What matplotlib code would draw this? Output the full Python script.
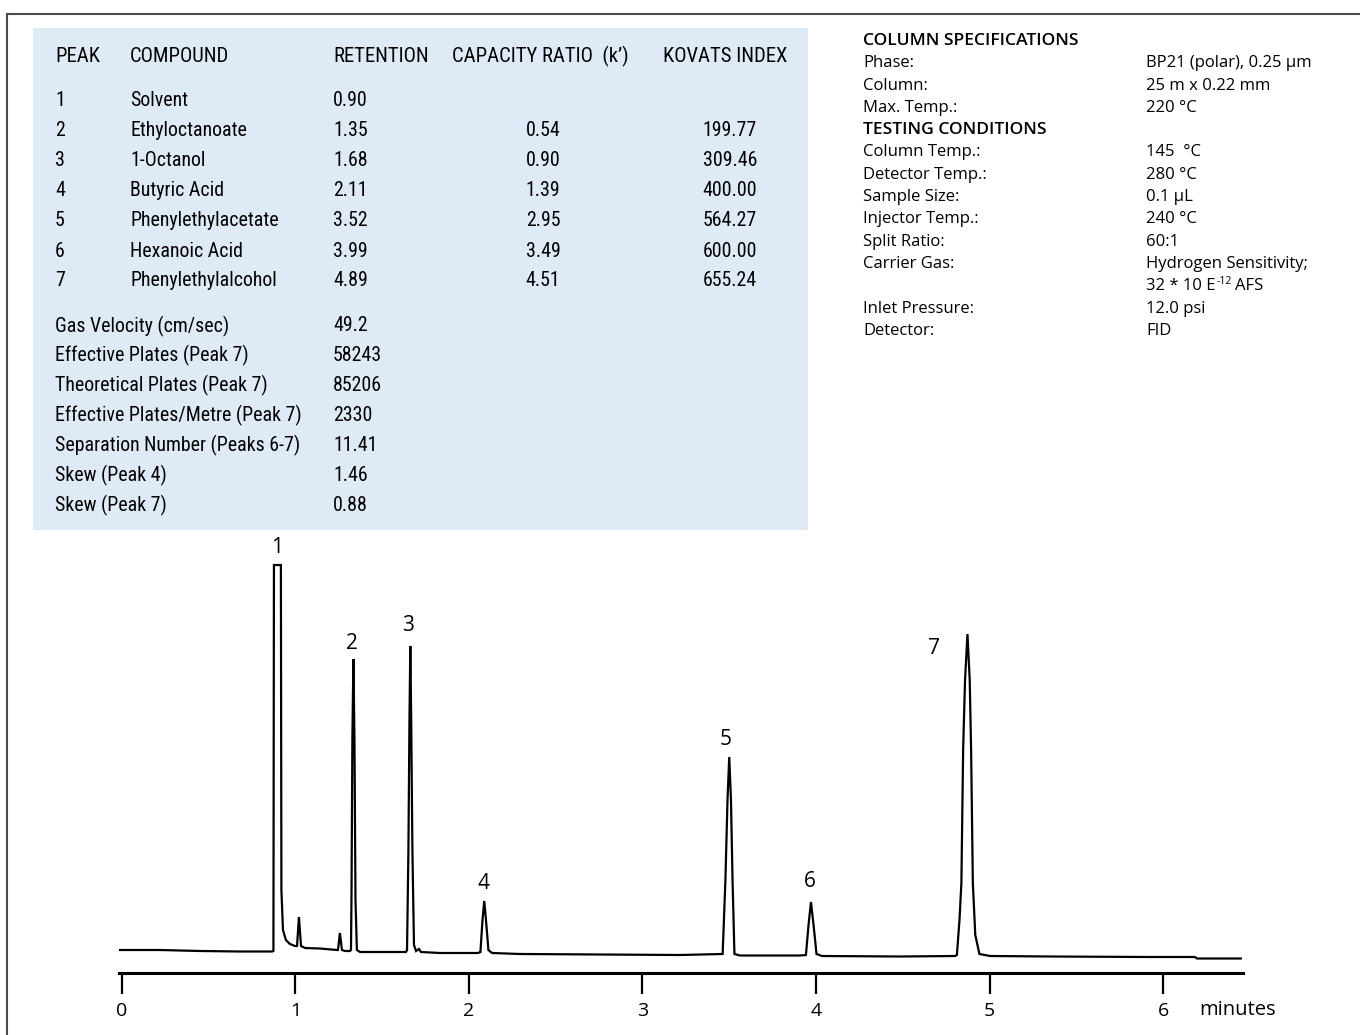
import matplotlib
matplotlib.use('Agg')
from matplotlib import pyplot as plt
from matplotlib import font_manager
from matplotlib.patches import Rectangle
from matplotlib.lines import Line2D

W, H = 1360, 1035

# peak table
peak_no = ['1', '2', '3', '4', '5', '6', '7']
compounds = ['Solvent', 'Ethyloctanoate', '1-Octanol', 'Butyric Acid',
             'Phenylethylacetate', 'Hexanoic Acid', 'Phenylethylalcohol']
retention = ['0.90', '1.35', '1.68', '2.11', '3.52', '3.99', '4.89']
capacity = ['', '0.54', '0.90', '1.39', '2.95', '3.49', '4.51']
kovats = ['', '199.77', '309.46', '400.00', '564.27', '600.00', '655.24']
headers = ['PEAK', 'COMPOUND', 'RETENTION', 'CAPACITY RATIO  (k\u2019)', 'KOVATS INDEX']

perf_labels = ['Gas Velocity (cm/sec)', 'Effective Plates (Peak 7)',
               'Theoretical Plates (Peak 7)', 'Effective Plates/Metre (Peak 7)',
               'Separation Number (Peaks 6-7)', 'Skew (Peak 4)', 'Skew (Peak 7)']
perf_values = ['49.2', '58243', '85206', '2330', '11.41', '1.46', '0.88']

# column specs / conditions
spec_labels = ['Phase:', 'Column:', 'Max. Temp.:']
spec_values = ['BP21 (polar), 0.25 \u00b5m', '25 m x 0.22 mm', '220 \u00b0C']
cond_labels = ['Column Temp.:', 'Detector Temp.:', 'Sample Size:', 'Injector Temp.:',
               'Split Ratio:', 'Carrier Gas:', '', 'Inlet Pressure:', 'Detector:']
cond_values = ['145  \u00b0C', '280 \u00b0C', '0.1 \u00b5L', '240 \u00b0C', '60:1',
               'Hydrogen Sensitivity;', '', '12.0 psi', 'FID']

# chromatogram trace (minutes, signal)
time_min = [-0.017, 0.219, 0.450, 0.680, 0.865, 0.873, 0.876, 0.916, 0.919, 0.928,
            0.945, 0.968, 0.997, 1.009, 1.020, 1.032, 1.055, 1.141, 1.239, 1.245,
            1.256, 1.268, 1.285, 1.314, 1.320, 1.323, 1.328, 1.334, 1.340, 1.346,
            1.354, 1.372, 1.487, 1.637, 1.643, 1.651, 1.657, 1.662, 1.667, 1.674,
            1.683, 1.695, 1.712, 1.723, 1.833, 2.052, 2.066, 2.078, 2.088, 2.098,
            2.112, 2.133, 2.294, 2.755, 3.216, 3.462, 3.478, 3.490, 3.500, 3.510,
            3.519, 3.530, 3.562, 3.908, 3.942, 3.957, 3.971, 3.986, 4.003, 4.035,
            4.484, 4.801, 4.812, 4.827, 4.838, 4.848, 4.859, 4.873, 4.886, 4.894,
            4.904, 4.918, 4.942, 5.003, 5.349, 5.925, 6.184, 6.196, 6.448]
signal = [22.7, 22.7, 21.7, 21.2, 21.2, 21.7, 407.7, 407.7, 82.7, 42.7,
          32.7, 28.7, 26.7, 26.7, 55.7, 26.7, 24.7, 24.2, 22.7, 22.7,
          39.7, 22.7, 21.7, 21.7, 22.7, 77.7, 232.7, 313.7, 232.7, 72.7,
          22.7, 20.7, 20.7, 20.7, 22.7, 122.7, 252.7, 326.7, 252.7, 122.7,
          27.7, 21.7, 23.7, 20.7, 19.7, 19.7, 20.7, 52.7, 71.7, 52.7,
          22.7, 19.7, 18.7, 18.2, 17.7, 18.7, 92.7, 172.7, 215.7, 172.7,
          92.7, 18.7, 17.2, 17.2, 17.7, 47.7, 70.7, 47.7, 18.7, 16.7,
          16.2, 16.7, 17.7, 52.7, 89.7, 222.7, 292.7, 338.7, 292.7, 222.7,
          89.7, 37.7, 18.7, 16.7, 16.2, 15.7, 15.7, 14.2, 14.2]

label_t = [0.893, 1.326, 1.648, 2.086, 3.481, 3.965, 4.680]
label_s = [425.7, 329.7, 347.7, 89.7, 233.7, 91.7, 324.7]

x_ticks = [0, 1, 2, 3, 4, 5, 6]

installed = {f.name for f in font_manager.fontManager.ttflist}
narrow_first = next((n for n in ['Roboto Condensed', 'Liberation Sans Narrow', 'Roboto']
                     if n in installed), 'DejaVu Sans')
narrow = [narrow_first, 'DejaVu Sans']
sans = ['Open Sans', 'DejaVu Sans']


def fp(x, y):
    return x / W, 1 - y / H


fig = plt.figure(figsize=(W / 100, H / 100), dpi=100)

# outer frame (left + top)
fig.add_artist(Line2D([7 / W, 7 / W], [0, 1 - 14 / H], color='#4a4a4a', lw=1.5))
fig.add_artist(Line2D([7 / W, 1], [1 - 14 / H, 1 - 14 / H], color='#4a4a4a', lw=1.5))

# light blue table box
x0, y0 = fp(33, 530)
fig.add_artist(Rectangle((x0, y0), (808 - 33) / W, (530 - 28) / H,
                         facecolor='#deebf7', edgecolor='none', zorder=0))

fs_tab = 13.5 if narrow_first == 'Roboto' else 14.3
col_x = [55, 130, 333, 452, 663]
for cx, h in zip(col_x, headers):
    fig.text(*fp(cx, 56), h, family=narrow, fontsize=fs_tab + 0.6, va='center', ha='left')

for i in range(len(peak_no)):
    yy = 101 + 30 * i
    fig.text(*fp(55, yy), peak_no[i], family=narrow, fontsize=fs_tab, va='center')
    fig.text(*fp(130, yy), compounds[i], family=narrow, fontsize=fs_tab, va='center')
    fig.text(*fp(333, yy), retention[i], family=narrow, fontsize=fs_tab, va='center')
    fig.text(*fp(543, yy), capacity[i], family=narrow, fontsize=fs_tab, va='center', ha='center')
    fig.text(*fp(730, yy), kovats[i], family=narrow, fontsize=fs_tab, va='center', ha='center')

for i in range(len(perf_labels)):
    yy = 326 + 29.9 * i
    fig.text(*fp(55, yy), perf_labels[i], family=narrow, fontsize=fs_tab, va='center')
    fig.text(*fp(333, yy), perf_values[i], family=narrow, fontsize=fs_tab, va='center')

# right-hand specification block
fs_sp = 12
lx, vx = 863, 1146
step = 22.3
fig.text(*fp(lx, 41), 'COLUMN SPECIFICATIONS', family=sans, fontsize=12.6,
         va='center', weight='semibold')
for i in range(len(spec_labels)):
    yy = 41 + step * (i + 1)
    fig.text(*fp(lx, yy), spec_labels[i], family=sans, fontsize=fs_sp, va='center')
    fig.text(*fp(vx, yy), spec_values[i], family=sans, fontsize=fs_sp, va='center')
fig.text(*fp(lx, 41 + step * 4), 'TESTING CONDITIONS', family=sans, fontsize=12.6,
         va='center', weight='semibold')
for i in range(len(cond_labels)):
    yy = 41 + step * (i + 5)
    fig.text(*fp(lx, yy), cond_labels[i], family=sans, fontsize=fs_sp, va='center')
    fig.text(*fp(vx, yy), cond_values[i], family=sans, fontsize=fs_sp, va='center')

# "32 * 10 E-12 AFS" with a raised exponent, pieces placed after measuring
yy = 41 + step * 11
fig.canvas.draw()
renderer = fig.canvas.get_renderer()
t1 = fig.text(*fp(vx, yy), '32 * 10 E', family=sans, fontsize=fs_sp, va='center')
x_end = t1.get_window_extent(renderer).x1
t2 = fig.text((x_end + 1) / W, 1 - (yy - 5) / H, '-12', family=sans, fontsize=7.5,
              va='center')
x_end = t2.get_window_extent(renderer).x1
fig.text((x_end + 3) / W, 1 - yy / H, 'AFS', family=sans, fontsize=fs_sp, va='center')

# chromatogram
ax_l, ax_r, ax_b, ax_t = 119, 1243, 972.7, 540
ax = fig.add_axes([ax_l / W, 1 - ax_b / H, (ax_r - ax_l) / W, (ax_b - ax_t) / H])
ax.set_facecolor('none')
ax.plot(time_min, signal, color='black', lw=1.6, solid_joinstyle='miter')
ax.set_xlim(-0.017, 6.461)
ax.set_ylim(0, ax_b - ax_t)
for side in ['top', 'right', 'left']:
    ax.spines[side].set_visible(False)
ax.spines['bottom'].set_linewidth(2.2)
ax.set_yticks([])
ax.set_xticks(x_ticks)
ax.set_xticklabels([str(t) for t in x_ticks], family=sans, fontsize=14)
ax.tick_params(axis='x', direction='out', length=15, width=1.6, pad=6)

for n, t, s in zip(peak_no, label_t, label_s):
    ax.text(t, s, n, family=sans, fontsize=15, ha='center', va='center', clip_on=False)

fig.text(*fp(1199, 1010), 'minutes', family=sans, fontsize=14.5, va='center')

fig.savefig('out.png', dpi=100)
